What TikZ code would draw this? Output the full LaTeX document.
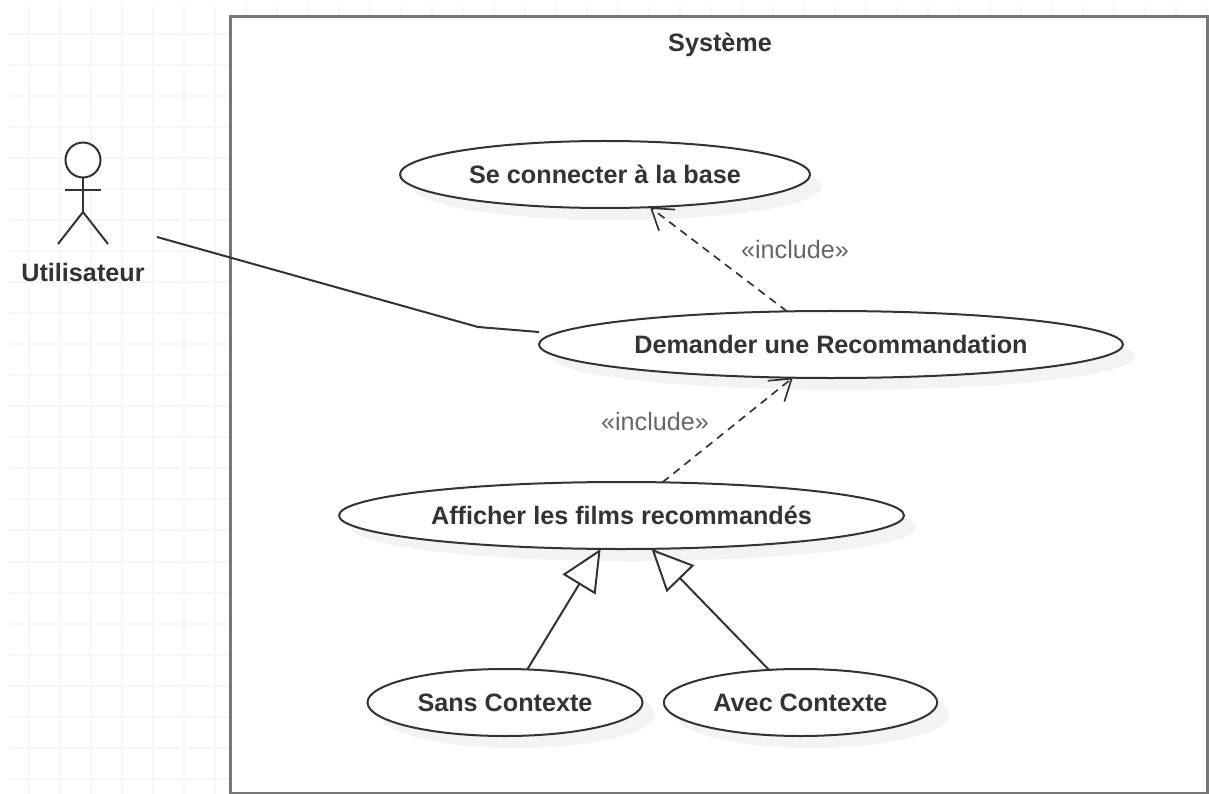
\documentclass[tikz,border=0pt]{standalone}
\usepackage{fontspec}
\setmainfont{Liberation Sans}
\usetikzlibrary{arrows.meta,shadows,shapes.geometric}
\definecolor{gridgray}{HTML}{F6F6F6}
\definecolor{shadowgray}{HTML}{F3F3F3}
\definecolor{framegray}{HTML}{777777}
\definecolor{inkgray}{HTML}{333333}
\tikzset{
	usecase/.style={ellipse, draw=inkgray, line width=0.06cm, fill=white, inner sep=0, outer sep=0, minimum height=2.01cm, text=inkgray, font=\fontsize{21.5pt}{25pt}\selectfont\bfseries, general shadow={fill=shadowgray, shadow xshift=0.36cm, shadow yshift=-0.36cm}},
	stereotype/.style={text=black!60, font=\fontsize{21.5pt}{25pt}\selectfont},
	includeline/.style={dashed, dash pattern=on 0.24cm off 0.18cm, line width=0.05cm, draw=inkgray, -{Straight Barb[length=0.6cm, width=0.8cm, line width=0.05cm]}},
	extendline/.style={line width=0.06cm, draw=inkgray, -{Triangle[open, length=1.25cm, width=1.15cm, line width=0.06cm, fill=white]}},
	actorline/.style={line width=0.06cm, draw=inkgray}
}

\begin{document}
\begin{tikzpicture}[x=0.03cm, y=-0.03cm]
	%%%%% PAGE %%%%%
	\useasboundingbox (0, 0) rectangle (1209, 794);
	
	\foreach \gridx in {0,...,38}
		\draw[gridgray, line width=0.06cm] (29+31*\gridx, 6) -- (29+31*\gridx, 794);
	\foreach \gridy in {0,...,24}
		\draw[gridgray, line width=0.06cm] (9, 34+31.03*\gridy) -- (1209, 34+31.03*\gridy);
	
	%%%%% SYSTEM %%%%%
	\draw[framegray, line width=0.09cm, fill=white] (230, 17) rectangle (1207, 793);
	\node[text=inkgray, font=\fontsize{21.5pt}{25pt}\selectfont\bfseries] (systeme) at (720, 45) {Système};
	
	%%%%% ACTOR %%%%%
	\draw[actorline, fill=white] (83, 160) circle (17.5);
	\draw[actorline] (83, 177.5) -- (83, 212);
	\draw[actorline] (65, 190) -- (101, 190);
	\draw[actorline] (58, 244) -- (83, 212) -- (108, 244);
	\node[text=inkgray, font=\fontsize{21.5pt}{25pt}\selectfont\bfseries] (utilisateur) at (83, 272) {Utilisateur};
	\coordinate (actorhand) at (157, 237);
	\coordinate (actorbend) at (478, 327);
	\coordinate (actorend) at (539, 332);
	
	%%%%% USE CASES %%%%%
	\node[usecase, minimum width=12.3cm] (connecter) at (605, 174.5) {Se connecter à la base};
	\node[usecase, minimum width=17.52cm] (demander) at (831, 344.5) {Demander une Recommandation};
	\node[usecase, minimum width=16.95cm] (afficher) at (621.5, 515.5) {Afficher les films recommandés};
	\node[usecase, minimum width=8.25cm] (sans) at (505, 702.5) {Sans Contexte};
	\node[usecase, minimum width=8.2cm] (avec) at (800.5, 702.5) {Avec Contexte};
	
	%%%%% CONNECTORS %%%%%
	\draw[actorline] (actorhand) -- (actorbend) -- (actorend);
	\draw[includeline] (demander.143) -- (connecter.-36);
	\draw[includeline] (afficher.39) -- (demander.221);
	\draw[extendline] (sans.56) -- (afficher.-122.5);
	\draw[extendline] (avec.134) -- (afficher.-48.5);
	
	\node[stereotype] (includehaut) at (795, 249) {«include»};
	\node[stereotype] (includebas) at (655, 421) {«include»};
\end{tikzpicture}
\end{document}
